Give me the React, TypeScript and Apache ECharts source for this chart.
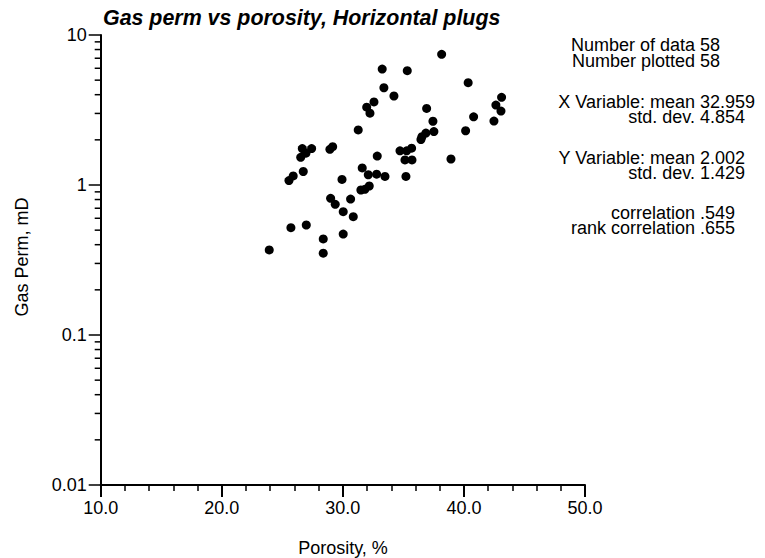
import React, { useEffect, useRef } from "react";
import * as echarts from "echarts";

const porosity = [
  38.16, 33.25, 35.32, 40.35, 33.39, 34.22, 43.11, 32.57, 31.97, 32.24,
  42.64, 43.06, 36.92, 37.44, 40.8, 42.48, 31.27, 40.14, 36.86, 36.53,
  36.45, 37.52, 26.65, 27.42, 26.95, 26.52, 28.93, 29.16, 32.84, 34.72,
  35.27, 35.68, 35.13, 35.71, 38.93, 31.6, 26.73, 32.1, 32.79, 33.48,
  35.21, 25.9, 25.55, 29.93, 32.18, 31.82, 31.49, 28.99, 29.37, 30.64,
  30.03, 30.86, 25.71, 26.98, 28.38, 30.03, 23.92, 28.38,
];
const gasPerm = [
  7.43, 5.93, 5.78, 4.81, 4.45, 3.92, 3.84, 3.58, 3.3, 3.01,
  3.41, 3.11, 3.24, 2.66, 2.85, 2.67, 2.33, 2.3, 2.22, 2.1,
  2.01, 2.27, 1.75, 1.75, 1.63, 1.53, 1.73, 1.8, 1.56, 1.69,
  1.69, 1.76, 1.47, 1.47, 1.49, 1.3, 1.23, 1.17, 1.18, 1.14,
  1.14, 1.15, 1.07, 1.09, 0.985, 0.936, 0.926, 0.815, 0.743, 0.806,
  0.664, 0.615, 0.519, 0.541, 0.437, 0.471, 0.369, 0.351,
];
const yMinorTicks = [
  0.02, 0.03, 0.04, 0.05, 0.06, 0.07, 0.08, 0.09,
  0.2, 0.3, 0.4, 0.5, 0.6, 0.7, 0.8, 0.9,
  2, 3, 4, 5, 6, 7, 8, 9,
];
// stats block: pairs of lines
const statLabels = [
  ["Number of data", "Number plotted"],
  ["X Variable: mean", "std. dev."],
  ["Y Variable: mean", "std. dev."],
  ["correlation", "rank correlation"],
];
const statValues = [
  ["58", "58"],
  ["32.959", "4.854"],
  ["2.002", "1.429"],
  [".549", ".655"],
];
const statGroupY = [53, 109.5, 165.5, 220.5];

const FONT = "'Liberation Sans', Arial, Helvetica, sans-serif";

export default function App() {
  const ref = useRef<HTMLDivElement>(null);
  useEffect(() => {
    if (!ref.current) return;
    const chart = echarts.init(ref.current, null, { renderer: "svg" });
    const graphics: any[] = [];
    statLabels.forEach((lines, i) => {
      graphics.push({
        type: "text",
        x: 695,
        y: statGroupY[i],
        style: {
          text: lines.join("\n"),
          font: `18px ${FONT}`,
          lineHeight: 15.5,
          fill: "#000",
          align: "right",
          verticalAlign: "middle",
        },
      });
      graphics.push({
        type: "text",
        x: 700,
        y: statGroupY[i],
        style: {
          text: statValues[i].join("\n"),
          font: `18px ${FONT}`,
          lineHeight: 15.5,
          fill: "#000",
          align: "left",
          verticalAlign: "middle",
        },
      });
    });
    graphics.push({
      type: "text",
      x: 343,
      y: 548,
      style: { text: "Porosity, %", font: `18px ${FONT}`, fill: "#000", align: "center", verticalAlign: "middle" },
    });
    graphics.push({
      type: "text",
      x: 22,
      y: 257,
      rotation: Math.PI / 2,
      style: { text: "Gas Perm, mD", font: `18px ${FONT}`, fill: "#000", align: "center", verticalAlign: "middle" },
    });
    chart.setOption({
      animation: false,
      backgroundColor: "#fff",
      title: {
        text: "Gas perm vs porosity, Horizontal plugs",
        left: 103,
        top: 7,
        padding: 0,
        textStyle: { fontFamily: FONT, fontSize: 21.4, fontStyle: "italic", fontWeight: "bold", color: "#000" },
      },
      grid: { left: 100.7, right: 180, top: 35, bottom: 73 },
      xAxis: {
        type: "value",
        min: 10,
        max: 50,
        interval: 10,
        axisLine: { lineStyle: { color: "#000", width: 2 } },
        axisTick: { show: true, length: 12, lineStyle: { color: "#000", width: 2 } },
        minorTick: { show: true, splitNumber: 5, length: 6, lineStyle: { color: "#000", width: 1.5 } },
        splitLine: { show: false },
        axisLabel: {
          margin: 14,
          fontFamily: FONT,
          fontSize: 18,
          color: "#000",
          formatter: (v: number) => v.toFixed(1),
        },
      },
      yAxis: {
        type: "log",
        logBase: 10,
        min: 0.01,
        max: 10,
        axisLine: { show: true, lineStyle: { color: "#000", width: 2 } },
        axisTick: { show: true, length: 12, lineStyle: { color: "#000", width: 1.5 } },
        splitLine: { show: false },
        axisLabel: {
          margin: 14,
          fontFamily: FONT,
          fontSize: 18,
          color: "#000",
          formatter: (v: number) => {
            if (v >= 10) return "10";
            if (v >= 1) return "1";
            if (v >= 0.1) return "0.1";
            return "0.01";
          },
        },
      },
      graphic: graphics,
      series: [
        {
          type: "scatter",
          data: porosity.map((x, i) => [x, gasPerm[i]]),
          symbol: "circle",
          symbolSize: 9,
          itemStyle: { color: "#000", opacity: 1 },
          silent: true,
        },
        {
          type: "custom",
          clip: false,
          silent: true,
          data: yMinorTicks.map((v) => [10, v]),
          renderItem: (params: any, api: any) => {
            const p = api.coord([api.value(0), api.value(1)]);
            return {
              type: "line",
              shape: { x1: p[0] - 6, y1: p[1], x2: p[0], y2: p[1] },
              style: { stroke: "#000", lineWidth: 1.5 },
            };
          },
        },
      ],
    });
    return () => chart.dispose();
  }, []);
  return (
    <div
      ref={ref}
      style={{ position: "absolute", left: 0, top: 0, width: 765, height: 558, background: "#fff" }}
    />
  );
}
